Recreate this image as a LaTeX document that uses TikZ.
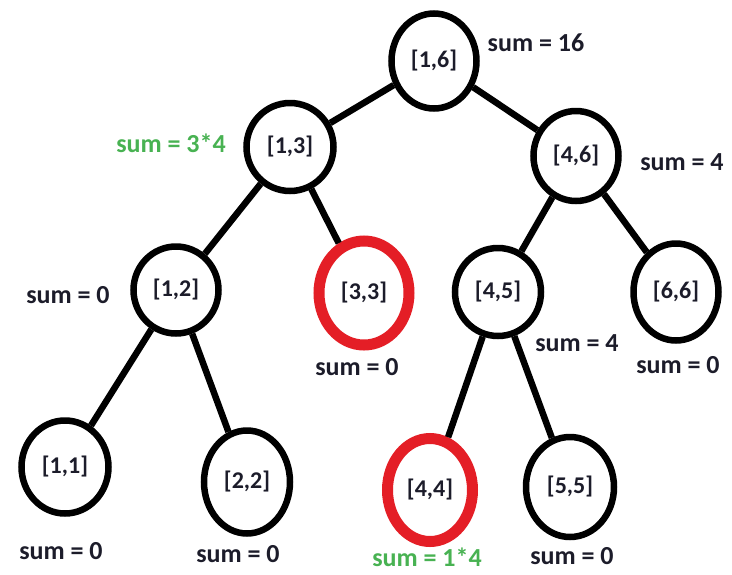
\documentclass[tikz,border=0pt]{standalone}
\usepackage{fontspec}
\setmainfont{Carlito}
\usetikzlibrary{shapes.geometric}
\definecolor{ringred}{RGB}{228,30,38}
\definecolor{sumgreen}{RGB}{72,178,82}
\definecolor{ink}{RGB}{28,28,42}
\begin{document}
\begin{tikzpicture}[x=1pt,y=-1pt,
  seg/.style={ellipse, draw=black, line width=6.5pt, fill=white, inner sep=0pt,
    font=\bfseries\fontsize{24}{28}\selectfont, text=ink},
  hot/.style={seg, draw=ringred, line width=11pt},
  sumlbl/.style={font=\bfseries\fontsize{26}{30}\selectfont, text=ink, inner sep=0pt},
  goodsum/.style={sumlbl, text=sumgreen},
  link/.style={line width=6.5pt, black}]
\useasboundingbox (0,0) rectangle (732,574);

% segment tree nodes
\node[seg, minimum width=85pt, minimum height=95pt] (n16) at (434,61) {[1,6]};
\node[seg, minimum width=87pt, minimum height=88pt] (n13) at (290,147) {[1,3]};
\node[seg, minimum width=85pt, minimum height=90pt] (n46) at (576,156) {[4,6]};
\node[seg, minimum width=85pt, minimum height=87pt] (n12) at (176,290) {[1,2]};
\node[hot, minimum width=90pt, minimum height=104pt] (n33) at (364,293) {[3,3]};
\node[seg, minimum width=86pt, minimum height=88pt] (n45) at (498,292) {[4,5]};
\node[seg, minimum width=85pt, minimum height=97pt] (n66) at (676,292) {[6,6]};
\node[seg, minimum width=87pt, minimum height=93pt] (n11) at (65,467) {[1,1]};
\node[seg, minimum width=86pt, minimum height=103pt] (n22) at (247,482) {[2,2]};
\node[hot, minimum width=85pt, minimum height=103pt] (n44) at (430,490) {[4,4]};
\node[seg, minimum width=88pt, minimum height=100pt] (n55) at (570,487) {[5,5]};

% parent-child links
\draw[link] (n16) -- (n13);
\draw[link] (n16) -- (n46);
\draw[link] (n13) -- (n12);
\draw[link] (n13) -- (n33);
\draw[link] (n46) -- (n45);
\draw[link] (n46) -- (n66);
\draw[link] (n12) -- (n11);
\draw[link] (n12) -- (n22);
\draw[link] (n45) -- (n44);
\draw[link] (n45) -- (n55);

% partial sums
\node[sumlbl]  (s16) at (536,43)  {sum = 16};
\node[goodsum] (s13) at (171,143) {sum = 3*4};
\node[sumlbl]  (s46) at (682,162) {sum = 4};
\node[sumlbl]  (s12) at (68,295)  {sum = 0};
\node[sumlbl]  (s33) at (357,367) {sum = 0};
\node[sumlbl]  (s45) at (577,343) {sum = 4};
\node[sumlbl]  (s66) at (678,365) {sum = 0};
\node[sumlbl]  (s11) at (61,551)  {sum = 0};
\node[sumlbl]  (s22) at (238,554) {sum = 0};
\node[goodsum] (s44) at (427,557) {sum = 1*4};
\node[sumlbl]  (s55) at (572,556) {sum = 0};
\end{tikzpicture}
\end{document}
